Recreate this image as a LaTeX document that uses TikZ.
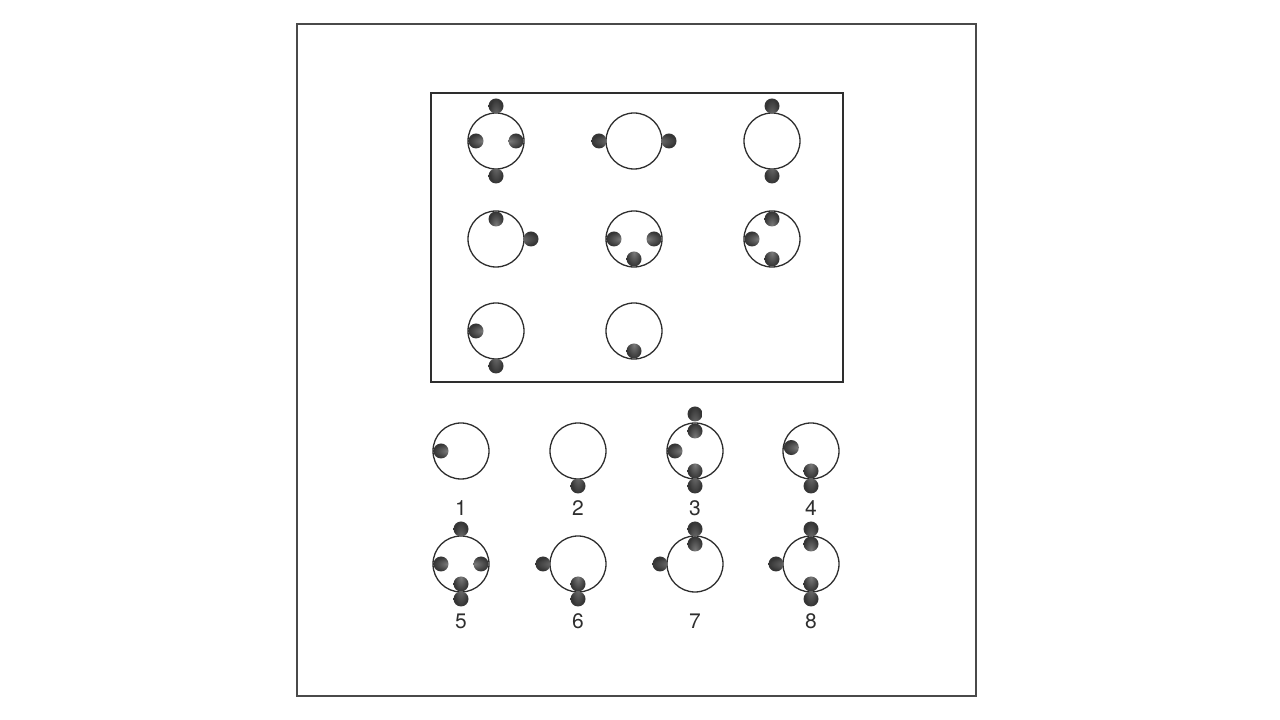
\documentclass[tikz,border=0pt]{standalone}
\usepackage{fontspec}
\setsansfont{TeX Gyre Heros}
\usetikzlibrary{positioning}
\definecolor{frameInk}{HTML}{4a4a4a}
\definecolor{ringInk}{HTML}{2e2e2e}
\definecolor{dotInk}{HTML}{4c4c4c}

\begin{document}
\begin{tikzpicture}[x=1pt, y=1pt,
        ring/.style={circle, draw=ringInk, line width=1.3pt, minimum size=56pt, inner sep=0pt},
        dot/.style={inner color=dotInk!75!white, outer color=dotInk!70!black},
        lbl/.style={font=\sffamily\fontsize{21}{24}\selectfont, text=ringInk, inner sep=0pt}]
        \useasboundingbox (0,0) rectangle (1280,720);
        % frames
        \draw[frameInk, line width=1.1pt] (297,24) rectangle (976,696);
        \draw[ringInk, line width=2.4pt] (431,338) rectangle (843,627);
        % puzzle grid: distance 20 = inside, 35 = outside
        \foreach \n/\x/\y/\pts in {
            g11/496/579/{90/35,180/20,0/20,270/35},
            g12/634/579/{180/35,0/35},
            g13/772/579/{90/35,270/35},
            g21/496/481/{90/20,0/35},
            g22/634/481/{180/20,0/20,270/20},
            g23/772/481/{90/20,180/20,270/20},
            g31/496/389/{180/20,270/35},
            g32/634/389/{270/20}}{
          \node[ring] (\n) at (\x,\y) {};
          \foreach \a/\d in \pts
            \shade[dot] (\n.center) ++(\a:\d) circle (7.5);
        }
        % answer options
        \foreach \n/\x/\y/\pts in {
            1/461/269/{180/20},
            2/578/269/{270/35},
            3/695/269/{90/37,90/20,180/20,270/20,270/35},
            4/811/269/{170/20,270/20,270/35},
            5/461/156/{90/35,180/20,0/20,270/20,270/35},
            6/578/156/{180/35,270/20,270/35},
            7/695/156/{180/35,90/35,90/20},
            8/811/156/{180/35,90/35,90/20,270/20,270/35}}{
          \node[ring] (o\n) at (\x,\y) {};
          \foreach \a/\d in \pts
            \shade[dot] (o\n.center) ++(\a:\d) circle (7.5);
          \node[lbl, below=21pt of o\n] {\n};
        }
      \end{tikzpicture}
\end{document}
